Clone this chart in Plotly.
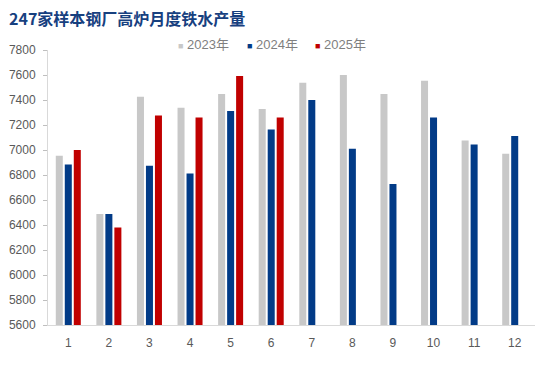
import plotly.graph_objects as go

months = [str(i) for i in range(1, 13)]
y2023 = [6955, 6488, 7426, 7338, 7448, 7328, 7538, 7600, 7448, 7554, 7077, 6970]
y2024 = [6885, 6488, 6874, 6813, 7312, 7165, 7400, 7010, 6728, 7261, 7045, 7112]
y2025 = [7000, 6381, 7277, 7261, 7592, 7261, None, None, None, None, None, None]
series_names = ["2023年", "2024年", "2025年"]
colors = ["#C8C8C8", "#023B87", "#C00000"]
y_ticks = [5600, 5800, 6000, 6200, 6400, 6600, 6800, 7000, 7200, 7400, 7600, 7800]
title = "247家样本钢厂高炉月度铁水产量"

W, H = 550, 392
ml, mt = 48, 50
mr = W - 535
mb = H - 325
pw = W - ml - mr
ph = H - mt - mb

fig = go.Figure()
for name, vals, c in zip(series_names, [y2023, y2024, y2025], colors):
    fig.add_trace(go.Bar(x=months, y=vals, name=name, marker=dict(color=c, line=dict(width=0)),
                         showlegend=False))

font_family = "Liberation Sans, Noto Sans CJK SC, sans-serif"

fig.update_layout(
    width=W, height=H,
    margin=dict(l=ml, r=mr, t=mt, b=mb, autoexpand=False),
    paper_bgcolor="white", plot_bgcolor="white",
    barmode="group", bargap=0.335, bargroupgap=0.22,
    font=dict(family=font_family, size=12, color="#595959"),
    xaxis=dict(type="category", showline=True, linecolor="#D9D9D9", linewidth=1,
               ticks="", showgrid=False, tickfont=dict(size=12, color="#595959"),
               ticklabelstandoff=7),
    yaxis=dict(range=[5600, 7800], tickvals=y_ticks, showline=True, linecolor="#D9D9D9",
               linewidth=1, ticks="outside", ticklen=4, tickcolor="#BFBFBF",
               showgrid=False, zeroline=False, tickfont=dict(size=12, color="#595959"),
               ticklabelstandoff=5),
    showlegend=False,
)

# title
fig.add_annotation(text="<b>" + title + "</b>", xref="paper", yref="paper",
                   x=(7 - ml) / pw, y=(H - mb - 18) / ph,
                   xanchor="left", yanchor="middle", showarrow=False,
                   font=dict(family="Noto Sans CJK SC, sans-serif", size=16, color="#17407F"))

# legend
legend_x = [176, 245, 313]
for name, c, lx in zip(series_names, colors, legend_x):
    fig.add_annotation(
        text=f'<span style="color:{c};font-size:9px">■</span> {name}',
        xref="paper", yref="paper", x=(lx - ml) / pw, y=(H - mb - 44) / ph,
        xanchor="left", yanchor="middle", showarrow=False,
        font=dict(family=font_family, size=13, color="#7F7F7F"))

fig.write_html("out.html", config={"displayModeBar": False},
               post_script="document.body.style.margin='0';")
